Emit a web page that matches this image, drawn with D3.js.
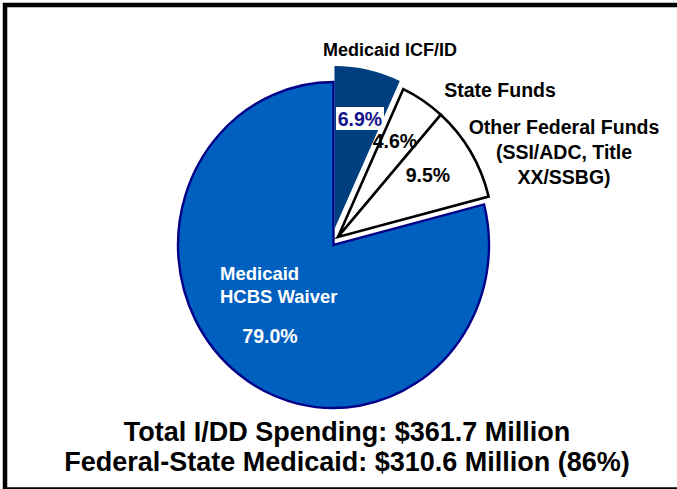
<!DOCTYPE html>
<html>
<head>
<meta charset="utf-8">
<script src="https://cdn.jsdelivr.net/npm/d3@7"></script>
<style>
  html, body { margin: 0; padding: 0; background: #fff; }
  svg { display: block; font-family: "Liberation Sans", Arial, sans-serif; font-weight: bold; }
</style>
</head>
<body>
<svg id="chart" width="677" height="489"></svg>
<script>
// ---- data ----
const categories = ["Medicaid ICF/ID", "State Funds", "Other Federal Funds (SSI/ADC, Title XX/SSBG)", "Medicaid HCBS Waiver"];
const values = [6.9, 4.6, 9.5, 79.0];
const percentLabels = ["6.9%", "4.6%", "9.5%", "79.0%"];
const footerLines = ["Total I/DD Spending: $361.7 Million", "Federal-State Medicaid: $310.6 Million (86%)"];

// ---- layout / style ----
const svg = d3.select("#chart");
const ry = 163, rx = 155.5;
const centers = [[334.5, 229], [338, 237], [338, 237], [333.5, 245]];
const fills = ["#003f7f", "#ffffff", "#ffffff", "#0060c0"];
const strokes = ["none", "#000000", "#000000", "#000088"];
const strokeW = [0, 2.6, 2.6, 2.4];

svg.append("rect").attr("x", 5).attr("y", 5).attr("width", 720).attr("height", 484.5)
  .attr("fill", "none").attr("stroke", "#000").attr("stroke-width", 4.5);

const pie = d3.pie().sort(null).startAngle(0).endAngle(2 * Math.PI);
const arcs = pie(values);
const arc = d3.arc().innerRadius(0).outerRadius(ry);

const g = svg.append("g");
const order = [3, 0, 1, 2];
order.forEach(i => {
  const d = arcs[i];
  g.append("path")
    .attr("transform", `translate(${centers[i][0]},${centers[i][1]}) scale(${rx / ry},1)`)
    .attr("d", arc(d))
    .attr("fill", fills[i])
    .attr("stroke", strokes[i])
    .attr("stroke-width", strokeW[i])
    .attr("stroke-linejoin", "miter")
    .attr("vector-effect", "non-scaling-stroke");
});

// percent labels
const pctPos = [[360, 126], [395, 148], [428, 182], [270, 343]];
const pctColor = ["#14148a", "#000", "#000", "#fff"];
svg.append("rect").attr("x", 336).attr("y", 107).attr("width", 48).attr("height", 23).attr("fill", "#fff");
percentLabels.forEach((t, i) => {
  svg.append("text").attr("x", pctPos[i][0]).attr("y", pctPos[i][1])
    .attr("text-anchor", "middle").attr("font-size", 19.5).attr("fill", pctColor[i]).text(t);
});

// category labels
svg.append("text").attr("x", 390).attr("y", 56).attr("text-anchor", "middle")
  .attr("font-size", 18).attr("fill", "#000").text(categories[0]);
svg.append("text").attr("x", 500).attr("y", 97).attr("text-anchor", "middle")
  .attr("font-size", 19.5).attr("fill", "#000").text(categories[1]);
const otherLines = ["Other Federal Funds", "(SSI/ADC, Title", "XX/SSBG)"];
otherLines.forEach((t, k) => {
  svg.append("text").attr("x", 564).attr("y", 134 + k * 25).attr("text-anchor", "middle")
    .attr("font-size", 19.5).attr("fill", "#000").text(t);
});
const hcbsLines = ["Medicaid", "HCBS Waiver"];
hcbsLines.forEach((t, k) => {
  svg.append("text").attr("x", 220).attr("y", 280 + k * 23).attr("text-anchor", "start")
    .attr("font-size", 18.5).attr("fill", "#fff").text(t);
});

// footer
footerLines.forEach((t, k) => {
  svg.append("text").attr("x", 347).attr("y", 441 + k * 30).attr("text-anchor", "middle")
    .attr("font-size", 27).attr("fill", "#000").text(t);
});
</script>
</body>
</html>
